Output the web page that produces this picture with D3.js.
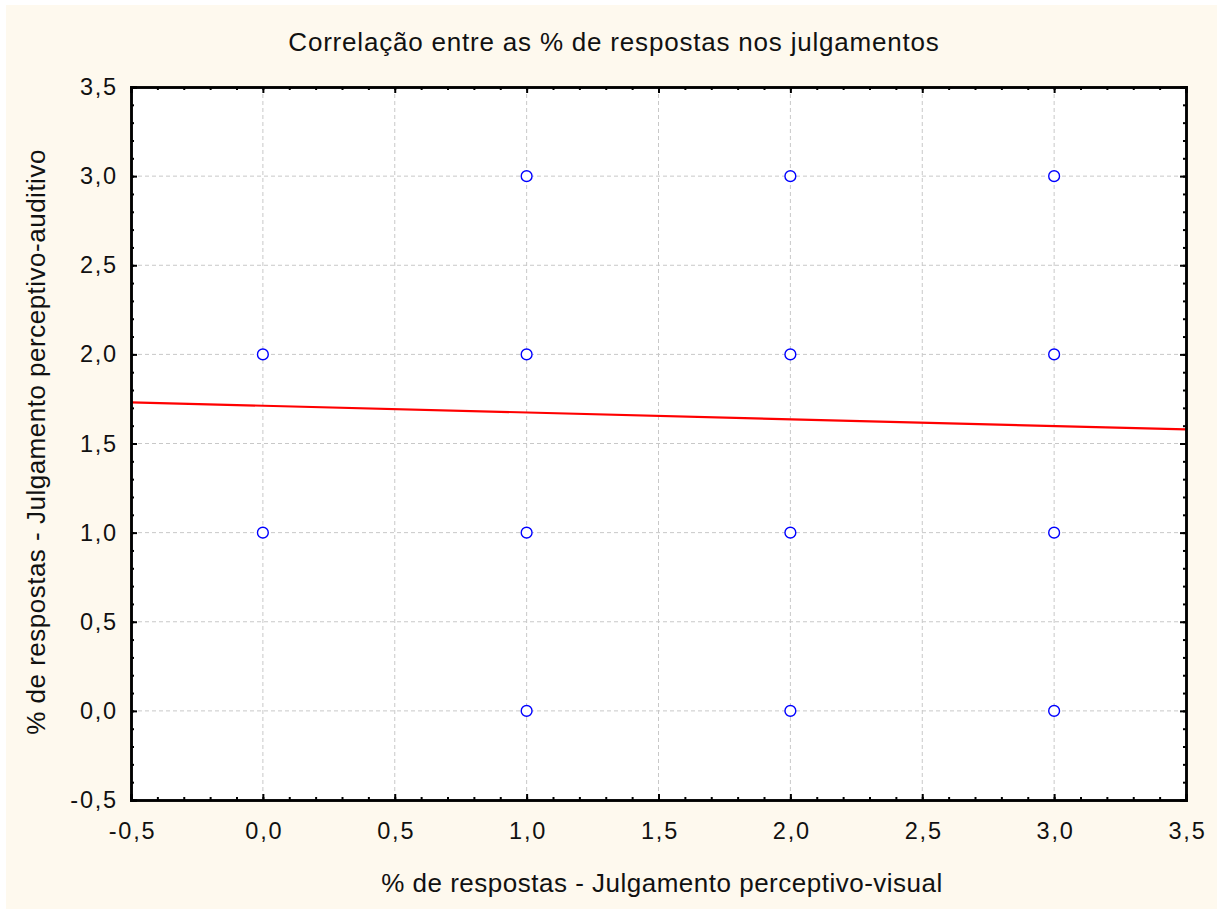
<!DOCTYPE html>
<html><head><meta charset="utf-8">
<script src="https://cdn.jsdelivr.net/npm/d3@7"></script>
<style>body{margin:0;background:#fff}svg{display:block}text{font-family:"Liberation Sans",Arial,sans-serif;fill:#111}</style>
</head><body>
<svg id="c" width="1219" height="909"></svg>
<script>
const title = "Correlação entre as % de respostas nos julgamentos";
const xLabel = "% de respostas - Julgamento perceptivo-visual";
const yLabel = "% de respostas - Julgamento perceptivo-auditivo";
const xTicks = [-0.5,0,0.5,1,1.5,2,2.5,3,3.5];
const yTicks = [-0.5,0,0.5,1,1.5,2,2.5,3,3.5];
const pointsX = [0,0,1,1,1,1,2,2,2,2,3,3,3,3];
const pointsY = [1,2,0,1,2,3,0,1,2,3,0,1,2,3];
const fitIntercept = 1.712;
const fitSlope = -0.038;

const svg = d3.select("#c");
const L=131, R=1186, T=87, B=800;
svg.append("rect").attr("x",6).attr("y",5).attr("width",1211).attr("height",904).attr("fill","#FEF9EE");
const x = d3.scaleLinear().domain([-0.5,3.5]).range([L,R]);
const y = d3.scaleLinear().domain([-0.5,3.5]).range([B,T]);
svg.append("rect").attr("x",L).attr("y",T).attr("width",R-L).attr("height",B-T).attr("fill","#fff");
const fmt = d=>d3.format(".1f")(d).replace(".",",").replace("\u2212","-");
// grid
const g = svg.append("g");
xTicks.slice(1,-1).forEach(t=>g.append("line").attr("x1",x(t)).attr("x2",x(t)).attr("y1",T).attr("y2",B).attr("stroke","#c8c8c8").attr("stroke-dasharray","4,3"));
yTicks.slice(1,-1).forEach(t=>g.append("line").attr("y1",y(t)).attr("y2",y(t)).attr("x1",L).attr("x2",R).attr("stroke","#c8c8c8").attr("stroke-dasharray","4,3"));
// fit line
svg.append("line").attr("x1",x(-0.5)).attr("x2",x(3.5))
  .attr("y1",y(fitIntercept+fitSlope*-0.5)).attr("y2",y(fitIntercept+fitSlope*3.5))
  .attr("stroke","#ff0000").attr("stroke-width",2.2);
// points
svg.append("g").selectAll("circle").data(d3.range(pointsX.length)).join("circle")
  .attr("cx",i=>x(pointsX[i])).attr("cy",i=>y(pointsY[i])).attr("r",5.4)
  .attr("fill","#fff").attr("stroke","#0000ff").attr("stroke-width",1.4);
// axes with inward ticks
const minor = d3.range(-0.5,3.5001,0.1).map(v=>Math.round(v*10)/10);
const axB = d3.axisBottom(x).tickValues(xTicks).tickSize(-6).tickFormat(fmt).tickPadding(22);
const axBm = d3.axisBottom(x).tickValues(minor).tickSize(-3).tickFormat("");
const axT = d3.axisTop(x).tickValues(xTicks).tickSize(-6).tickFormat("");
const axTm = d3.axisTop(x).tickValues(minor).tickSize(-3).tickFormat("");
const axL = d3.axisLeft(y).tickValues(yTicks).tickSize(-6).tickFormat(fmt).tickPadding(13);
const axLm = d3.axisLeft(y).tickValues(minor).tickSize(-3).tickFormat("");
const axR = d3.axisRight(y).tickValues(yTicks).tickSize(-6).tickFormat("");
const axRm = d3.axisRight(y).tickValues(minor).tickSize(-3).tickFormat("");
function style(sel){sel.selectAll("path").attr("stroke","#000").attr("stroke-width",2.5);
  sel.selectAll("line").attr("stroke","#000").attr("stroke-width",2);
  sel.selectAll("text").style("font-size","23.5px").style("letter-spacing","1.8px").attr("fill","#111").style("font-family","Liberation Sans, Arial, sans-serif");}
[[axBm,`translate(0,${B})`],[axB,`translate(0,${B})`],[axTm,`translate(0,${T})`],[axT,`translate(0,${T})`],
 [axLm,`translate(${L},0)`],[axL,`translate(${L},0)`],[axRm,`translate(${R},0)`],[axR,`translate(${R},0)`]]
 .forEach(([a,tr],i)=>{const s=svg.append("g").attr("transform",tr).call(a).call(style); if(i===1) s.selectAll(".tick text").attr("dx","1px");});
svg.append("text").attr("x",614).attr("y",51).attr("text-anchor","middle").style("font-size","26px").style("letter-spacing","0.8px").text(title);
svg.append("text").attr("x",662).attr("y",892).attr("text-anchor","middle").style("font-size","26px").style("letter-spacing","0.5px").text(xLabel);
svg.append("text").attr("transform","translate(45,442) rotate(-90)").attr("text-anchor","middle").style("font-size","26px").style("letter-spacing","0.5px").text(yLabel);
</script>
</body></html>
